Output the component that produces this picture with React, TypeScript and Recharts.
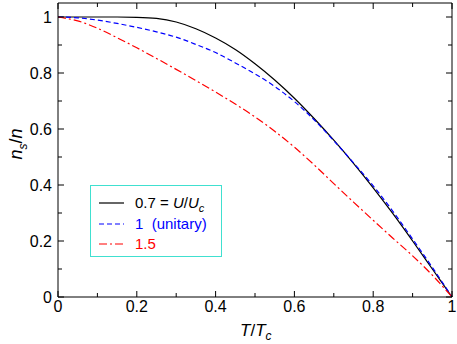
import React from 'react';
import { LineChart, Line, XAxis, YAxis, Legend } from 'recharts';

// T/Tc sample points
const temps = [0, 0.05, 0.1, 0.15, 0.2, 0.25, 0.3, 0.35, 0.4, 0.45, 0.5, 0.55, 0.6, 0.65, 0.7, 0.75, 0.8, 0.85, 0.9, 0.95, 1];
// ns/n for U/Uc = 0.7, 1 (unitary), 1.5
const u07 = [1, 1, 1, 1, 0.999, 0.995, 0.982, 0.958, 0.925, 0.884, 0.833, 0.775, 0.71, 0.6375, 0.56, 0.4775, 0.39, 0.2975, 0.2, 0.1, 0];
const u10 = [1, 0.997, 0.989, 0.977, 0.963, 0.947, 0.928, 0.902, 0.873, 0.836, 0.797, 0.752, 0.698, 0.633, 0.558, 0.479, 0.397, 0.306, 0.207, 0.106, 0];
const u15 = [1, 0.986, 0.96, 0.926, 0.89, 0.852, 0.813, 0.773, 0.732, 0.689, 0.643, 0.592, 0.535, 0.472, 0.405, 0.339, 0.274, 0.21, 0.147, 0.078, 0];

const xTicks = [0, 0.1, 0.2, 0.3, 0.4, 0.5, 0.6, 0.7, 0.8, 0.9, 1];
const yTicks = [0, 0.1, 0.2, 0.3, 0.4, 0.5, 0.6, 0.7, 0.8, 0.9, 1];

const data = temps.map((t, i) => ({ t, a: u07[i], b: u10[i], c: u15[i] }));

const series = [
  { key: 'a', color: '#000000', dash: undefined },
  { key: 'b', color: '#0000ff', dash: '5 3' },
  { key: 'c', color: '#ff0000', dash: '8 3 2 3' },
];

const FONT = '"Liberation Sans", Arial, Helvetica, sans-serif';

const isMajor = (v: number) => Math.round(v * 10) % 2 === 0;
const fmt = (v: number) => (v === 0 || v === 1 ? String(v) : v.toFixed(1));

const BottomTick = (props: any) => {
  const { x, y, payload } = props;
  const v = payload.value;
  const len = isMajor(v) ? 6 : 4;
  return (
    <g>
      <line x1={x} y1={y} x2={x} y2={y - len} stroke="#000" strokeWidth={1} />
      {isMajor(v) && (
        <text x={x} y={y + 15} textAnchor="middle" fontSize={16} fontFamily={FONT} fill="#000">{fmt(v)}</text>
      )}
    </g>
  );
};

const TopTick = (props: any) => {
  const { x, y, payload } = props;
  const len = isMajor(payload.value) ? 6 : 4;
  return <line x1={x} y1={y} x2={x} y2={y + len} stroke="#000" strokeWidth={1} />;
};

const LeftTick = (props: any) => {
  const { x, y, payload } = props;
  const v = payload.value;
  const len = isMajor(v) ? 6 : 4;
  return (
    <g>
      <line x1={x} y1={y} x2={x + len} y2={y} stroke="#000" strokeWidth={1} />
      {isMajor(v) && (
        <text x={x - 6} y={y + 6} textAnchor="end" fontSize={16} fontFamily={FONT} fill="#000">{fmt(v)}</text>
      )}
    </g>
  );
};

const RightTick = (props: any) => {
  const { x, y, payload } = props;
  const len = isMajor(payload.value) ? 6 : 4;
  return <line x1={x} y1={y} x2={x - len} y2={y} stroke="#000" strokeWidth={1} />;
};

const LegendBox = () => (
  <div
    style={{
      border: '1px solid #40e0d0',
      width: 130,
      height: 70,
      background: '#fff',
      fontFamily: FONT,
      fontSize: 15,
      position: 'relative',
    }}
  >
    {series.map((s, i) => (
      <div key={s.key} style={{ position: 'absolute', left: 0, top: 8 + i * 20.5, height: 18, width: 130 }}>
        <svg width={40} height={18} style={{ position: 'absolute', left: 0, top: 0 }}>
          <line x1={8} y1={9} x2={33} y2={9} stroke={s.color} strokeWidth={1.2} strokeDasharray={s.dash} />
        </svg>
        <span style={{ position: 'absolute', left: 44, top: 0, color: s.color, whiteSpace: 'pre', lineHeight: '18px' }}>
          {i === 0 && (
            <>
              0.7 = <i>U</i>/<i>U</i>
              <sub style={{ fontSize: 11, fontStyle: 'italic', lineHeight: 0 }}>c</sub>
            </>
          )}
          {i === 1 && '1  (unitary)'}
          {i === 2 && '1.5'}
        </span>
      </div>
    ))}
  </div>
);

export default function App() {
  return (
    <div style={{ position: 'relative', width: 457, height: 344, background: '#fff' }}>
      <style>{'body{margin:0}'}</style>
      <LineChart width={457} height={344} data={data} margin={{ top: 0, right: 0, bottom: 7, left: 8 }}>
        <XAxis
          xAxisId={0}
          dataKey="t"
          type="number"
          domain={[0, 1]}
          ticks={xTicks}
          interval={0}
          height={40}
          tickSize={0}
          tickMargin={0}
          tickLine={false}
          axisLine={{ stroke: '#000', strokeWidth: 1 }}
          tick={<BottomTick />}
        />
        <XAxis
          xAxisId="top"
          orientation="top"
          dataKey="t"
          type="number"
          domain={[0, 1]}
          ticks={xTicks}
          interval={0}
          height={3}
          tickSize={0}
          tickMargin={0}
          tickLine={false}
          axisLine={{ stroke: '#000', strokeWidth: 1 }}
          tick={<TopTick />}
        />
        <YAxis
          yAxisId={0}
          type="number"
          domain={[0, 1.05]}
          ticks={yTicks}
          interval={0}
          width={50}
          tickSize={0}
          tickMargin={0}
          tickLine={false}
          allowDataOverflow
          axisLine={{ stroke: '#000', strokeWidth: 1 }}
          tick={<LeftTick />}
        />
        <YAxis
          yAxisId="right"
          orientation="right"
          type="number"
          domain={[0, 1.05]}
          ticks={yTicks}
          interval={0}
          width={5}
          tickSize={0}
          tickMargin={0}
          tickLine={false}
          allowDataOverflow
          axisLine={{ stroke: '#000', strokeWidth: 1 }}
          tick={<RightTick />}
        />
        <Legend
          layout="vertical"
          align="center"
          verticalAlign="middle"
          content={<LegendBox />}
          wrapperStyle={{ left: 90, top: 185, right: 'auto', bottom: 'auto', width: 132 }}
        />
        {series.map((s) => (
          <Line
            key={s.key}
            xAxisId={0}
            yAxisId={0}
            type="monotone"
            dataKey={s.key}
            stroke={s.color}
            strokeWidth={1.2}
            strokeDasharray={s.dash}
            dot={false}
            activeDot={false}
            isAnimationActive={false}
          />
        ))}
      </LineChart>
      <div
        style={{
          position: 'absolute',
          left: 240,
          top: 321,
          fontFamily: FONT,
          fontSize: 17,
          lineHeight: '20px',
          whiteSpace: 'nowrap',
        }}
      >
        <i>T</i>/<i>T</i>
        <sub style={{ fontSize: 12, fontStyle: 'italic', lineHeight: 0 }}>c</sub>
      </div>
      <div
        style={{
          position: 'absolute',
          left: 16,
          top: 144,
          fontFamily: FONT,
          fontSize: 18,
          lineHeight: '20px',
          whiteSpace: 'nowrap',
          transform: 'translate(-50%, -50%) rotate(-90deg)',
        }}
      >
        <i>n</i>
        <sub style={{ fontSize: 12, fontStyle: 'italic', lineHeight: 0 }}>s</sub>/<i>n</i>
      </div>
    </div>
  );
}
